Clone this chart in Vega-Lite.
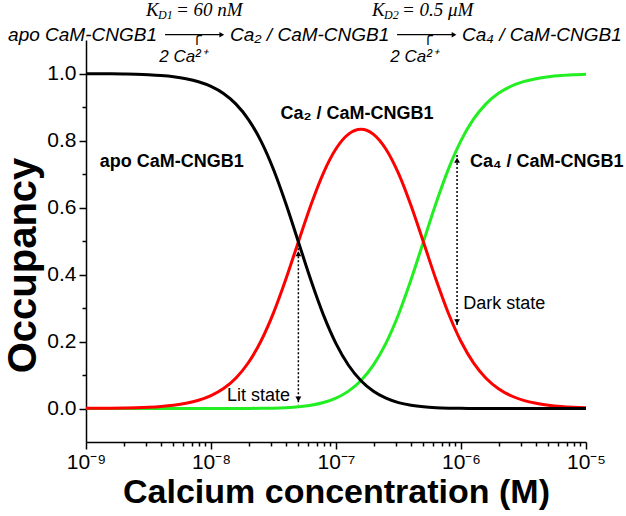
{
  "$schema": "https://vega.github.io/schema/vega-lite/v6.json",
  "width": 500,
  "height": 402,
  "autosize": {"type": "none"},
  "padding": {"left": 86, "top": 40, "right": 40, "bottom": 74},
  "background": "white",
  "config": {"font": "Liberation Sans", "view": {"stroke": null}},
  "data": {"values": [
    {"c": 1e-9, "apo": 0.9996, "ca2": 0.0004, "ca4": 0},
    {"c": 1.259e-9, "apo": 0.9994, "ca2": 0.0006, "ca4": 0},
    {"c": 1.585e-9, "apo": 0.999, "ca2": 0.001, "ca4": 0},
    {"c": 1.995e-9, "apo": 0.9984, "ca2": 0.0016, "ca4": 0},
    {"c": 2.512e-9, "apo": 0.9975, "ca2": 0.0025, "ca4": 0},
    {"c": 3.162e-9, "apo": 0.996, "ca2": 0.004, "ca4": 0},
    {"c": 3.981e-9, "apo": 0.9937, "ca2": 0.0063, "ca4": 0},
    {"c": 5.012e-9, "apo": 0.9901, "ca2": 0.0099, "ca4": 0},
    {"c": 6.31e-9, "apo": 0.9843, "ca2": 0.0157, "ca4": 0},
    {"c": 7.943e-9, "apo": 0.9754, "ca2": 0.0246, "ca4": 0},
    {"c": 1e-8, "apo": 0.9615, "ca2": 0.0385, "ca4": 0},
    {"c": 1.259e-8, "apo": 0.9404, "ca2": 0.0596, "ca4": 0},
    {"c": 1.585e-8, "apo": 0.9086, "ca2": 0.0913, "ca4": 0.0001},
    {"c": 1.995e-8, "apo": 0.8625, "ca2": 0.1373, "ca4": 0.0002},
    {"c": 2.512e-8, "apo": 0.7981, "ca2": 0.2014, "ca4": 0.0005},
    {"c": 3.162e-8, "apo": 0.7135, "ca2": 0.2854, "ca4": 0.0011},
    {"c": 3.981e-8, "apo": 0.6105, "ca2": 0.3871, "ca4": 0.0025},
    {"c": 5.012e-8, "apo": 0.4963, "ca2": 0.4987, "ca4": 0.005},
    {"c": 6.31e-8, "apo": 0.382, "ca2": 0.6083, "ca4": 0.0097},
    {"c": 7.943e-8, "apo": 0.2787, "ca2": 0.7035, "ca4": 0.0178},
    {"c": 1e-7, "apo": 0.1938, "ca2": 0.7752, "ca4": 0.031},
    {"c": 1.259e-7, "apo": 0.1292, "ca2": 0.8189, "ca4": 0.0519},
    {"c": 1.585e-7, "apo": 0.0829, "ca2": 0.8333, "ca4": 0.0837},
    {"c": 1.995e-7, "apo": 0.0514, "ca2": 0.8183, "ca4": 0.1303},
    {"c": 2.512e-7, "apo": 0.0307, "ca2": 0.774, "ca4": 0.1953},
    {"c": 3.162e-7, "apo": 0.0175, "ca2": 0.7018, "ca4": 0.2807},
    {"c": 3.981e-7, "apo": 0.0096, "ca2": 0.6061, "ca4": 0.3843},
    {"c": 5.012e-7, "apo": 0.0049, "ca2": 0.4963, "ca4": 0.4987},
    {"c": 6.31e-7, "apo": 0.0024, "ca2": 0.3848, "ca4": 0.6128},
    {"c": 7.943e-7, "apo": 0.0011, "ca2": 0.2835, "ca4": 0.7154},
    {"c": 1e-6, "apo": 0.0005, "ca2": 0.1999, "ca4": 0.7996},
    {"c": 1.259e-6, "apo": 0.0002, "ca2": 0.1362, "ca4": 0.8636},
    {"c": 1.585e-6, "apo": 0.0001, "ca2": 0.0905, "ca4": 0.9094},
    {"c": 1.995e-6, "apo": 0, "ca2": 0.0591, "ca4": 0.9409},
    {"c": 2.512e-6, "apo": 0, "ca2": 0.0381, "ca4": 0.9619},
    {"c": 3.162e-6, "apo": 0, "ca2": 0.0244, "ca4": 0.9756},
    {"c": 3.981e-6, "apo": 0, "ca2": 0.0155, "ca4": 0.9845},
    {"c": 5.012e-6, "apo": 0, "ca2": 0.0099, "ca4": 0.9901},
    {"c": 6.31e-6, "apo": 0, "ca2": 0.0062, "ca4": 0.9938},
    {"c": 7.943e-6, "apo": 0, "ca2": 0.0039, "ca4": 0.996},
    {"c": 1e-5, "apo": 0, "ca2": 0.0025, "ca4": 0.9975}
  ]},
  "encoding": {
    "x": {
      "field": "c", "type": "quantitative",
      "scale": {"type": "log", "domain": [1e-9, 1e-5]},
      "axis": {
        "values": [1e-9,2e-9,3e-9,4e-9,5e-9,6e-9,7e-9,8e-9,9e-9,1e-8,2e-8,3e-8,4e-8,5e-8,6e-8,7e-8,8e-8,9e-8,1e-7,2e-7,3e-7,4e-7,5e-7,6e-7,7e-7,8e-7,9e-7,1e-6,2e-6,3e-6,4e-6,5e-6,6e-6,7e-6,8e-6,9e-6,1e-5],
        "labelExpr": "abs(log(datum.value)/LN10 - round(log(datum.value)/LN10)) < 0.001 ? ['10⁻⁹','10⁻⁸','10⁻⁷','10⁻⁶','10⁻⁵'][round(log(datum.value)/LN10)+9] : ''",
        "tickSize": {"condition": {"test": "abs(log(datum.value)/LN10 - round(log(datum.value)/LN10)) < 0.001", "value": 7}, "value": 4},
        "grid": false, "labelFlush": false, "labelOverlap": false,
        "labelFontSize": 21, "labelColor": "black", "labelPadding": 2,
        "domainColor": "black", "domainWidth": 1.5, "tickColor": "black", "tickWidth": 1.5,
        "title": "Calcium concentration (M)", "titleFontSize": 34, "titleFontWeight": "bold",
        "titleColor": "black", "titlePadding": 3
      }
    },
    "y": {
      "field": "occ", "type": "quantitative",
      "scale": {"domain": [-0.1, 1.1], "nice": false, "zero": false},
      "axis": {
        "values": [0, 0.1, 0.2, 0.3, 0.4, 0.5, 0.6, 0.7, 0.8, 0.9, 1.0],
        "labelExpr": "abs(datum.value*5 - round(datum.value*5)) < 0.01 ? format(datum.value, '.1f') : ''",
        "tickSize": {"condition": {"test": "abs(datum.value*5 - round(datum.value*5)) < 0.01", "value": 7}, "value": 4},
        "grid": false, "labelOverlap": false, "labelFlush": false,
        "labelFontSize": 21, "labelColor": "black", "labelPadding": 3,
        "domainColor": "black", "domainWidth": 1.5, "tickColor": "black", "tickWidth": 1.5,
        "title": "Occupancy", "titleFontSize": 40, "titleFontWeight": "bold",
        "titleColor": "black", "titlePadding": 3, "titleY": 225
      }
    }
  },
  "layer": [
    {
      "transform": [{"fold": ["ca4"], "as": ["series", "occ"]}],
      "mark": {"type": "line", "color": "#22ee22", "strokeWidth": 3, "interpolate": "monotone"}
    },
    {
      "transform": [{"fold": ["ca2"], "as": ["series", "occ"]}],
      "mark": {"type": "line", "color": "#ff0000", "strokeWidth": 3, "interpolate": "monotone"}
    },
    {
      "transform": [{"fold": ["apo"], "as": ["series", "occ"]}],
      "mark": {"type": "line", "color": "#000000", "strokeWidth": 3, "interpolate": "monotone"}
    },
    {
      "data": {"values": [
        {"c": 5e-8, "occ": 0.478, "occ2": 0.012},
        {"c": 9.3e-7, "occ": 0.757, "occ2": 0.243}
      ]},
      "mark": {"type": "rule", "color": "black", "strokeWidth": 1.5, "strokeDash": [2, 2]},
      "encoding": {"y2": {"field": "occ2"}}
    },
    {
      "data": {"values": [
        {"c": 5e-8, "occ": 0.462},
        {"c": 9.3e-7, "occ": 0.741}
      ]},
      "mark": {"type": "point", "shape": "triangle-up", "filled": true, "color": "black", "size": 35, "opacity": 1}
    },
    {
      "data": {"values": [
        {"c": 5e-8, "occ": 0.028},
        {"c": 9.3e-7, "occ": 0.259}
      ]},
      "mark": {"type": "point", "shape": "triangle-down", "filled": true, "color": "black", "size": 35, "opacity": 1}
    },
    {
      "data": {"values": [
        {"c": 1.29e-9, "occ": 0.737, "label": "apo CaM-CNGB1"},
        {"c": 1.18e-6, "occ": 0.737, "label": "Ca₄ / CaM-CNGB1"}
      ]},
      "mark": {"type": "text", "align": "left", "baseline": "middle", "fontSize": 18, "fontWeight": "bold", "color": "black"},
      "encoding": {"text": {"field": "label"}}
    },
    {
      "data": {"values": [
        {"c": 1.47e-7, "occ": 0.878, "label": "Ca₂ / CaM-CNGB1"}
      ]},
      "mark": {"type": "text", "align": "center", "baseline": "middle", "fontSize": 18, "fontWeight": "bold", "color": "black"},
      "encoding": {"text": {"field": "label"}}
    },
    {
      "data": {"values": [
        {"c": 4.28e-8, "occ": 0.036, "label": "Lit state"}
      ]},
      "mark": {"type": "text", "align": "right", "baseline": "middle", "fontSize": 18, "color": "black"},
      "encoding": {"text": {"field": "label"}}
    },
    {
      "data": {"values": [
        {"c": 1.04e-6, "occ": 0.313, "label": "Dark state"}
      ]},
      "mark": {"type": "text", "align": "left", "baseline": "middle", "fontSize": 18, "color": "black"},
      "encoding": {"text": {"field": "label"}}
    },
    {
      "data": {"values": [
        {"c": 2.38e-10, "occ": 1.116, "label": "apo CaM-CNGB1"},
        {"c": 1.42e-8, "occ": 1.116, "label": "Ca₂ / CaM-CNGB1"},
        {"c": 1.02e-6, "occ": 1.116, "label": "Ca₄ / CaM-CNGB1"}
      ]},
      "mark": {"type": "text", "align": "left", "baseline": "middle", "fontSize": 19, "fontStyle": "italic", "color": "black"},
      "encoding": {"text": {"field": "label"}}
    },
    {
      "data": {"values": [
        {"c": 5.97e-9, "occ": 1.048, "label": "2 Ca²⁺"},
        {"c": 4.21e-7, "occ": 1.048, "label": "2 Ca²⁺"}
      ]},
      "mark": {"type": "text", "align": "center", "baseline": "middle", "fontSize": 17, "fontStyle": "italic", "color": "black"},
      "encoding": {"text": {"field": "label"}}
    },
    {
      "data": {"values": [
        {"c": 4.29e-9, "c2": 1.22e-8, "occ": 1.116},
        {"c": 3.08e-7, "c2": 8.8e-7, "occ": 1.116}
      ]},
      "mark": {"type": "rule", "color": "black", "strokeWidth": 1.3},
      "encoding": {"x2": {"field": "c2"}}
    },
    {
      "data": {"values": [
        {"c": 1.22e-8, "occ": 1.116},
        {"c": 8.8e-7, "occ": 1.116}
      ]},
      "mark": {"type": "point", "shape": "triangle-right", "filled": true, "color": "black", "size": 30, "opacity": 1}
    },
    {
      "data": {"values": [
        {"c": 7.73e-9, "occ": 1.113, "label": "╭"},
        {"c": 5.45e-7, "occ": 1.113, "label": "╭"}
      ]},
      "mark": {"type": "text", "align": "center", "baseline": "middle", "fontSize": 16, "font": "DejaVu Sans", "color": "black"},
      "encoding": {"text": {"field": "label"}}
    },
    {
      "data": {"values": [
        {"c": 3.02e-9, "occ": 1.191, "label": "K"},
        {"c": 1.94e-7, "occ": 1.191, "label": "K"}
      ]},
      "mark": {"type": "text", "align": "left", "baseline": "middle", "fontSize": 19, "fontStyle": "italic", "font": "Liberation Serif", "color": "black"},
      "encoding": {"text": {"field": "label"}}
    },
    {
      "data": {"values": [
        {"c": 3.02e-9, "occ": 1.191, "label": "D1"},
        {"c": 1.94e-7, "occ": 1.191, "label": "D2"}
      ]},
      "mark": {"type": "text", "align": "left", "baseline": "middle", "fontSize": 12, "fontStyle": "italic", "font": "Liberation Serif", "color": "black", "dx": 12, "dy": 5},
      "encoding": {"text": {"field": "label"}}
    },
    {
      "data": {"values": [
        {"c": 3.02e-9, "occ": 1.191, "label": "= 60 nM"},
        {"c": 1.94e-7, "occ": 1.191, "label": "= 0.5 μM"}
      ]},
      "mark": {"type": "text", "align": "left", "baseline": "middle", "fontSize": 19, "fontStyle": "italic", "font": "Liberation Serif", "color": "black", "dx": 30},
      "encoding": {"text": {"field": "label"}}
    }
  ]
}
